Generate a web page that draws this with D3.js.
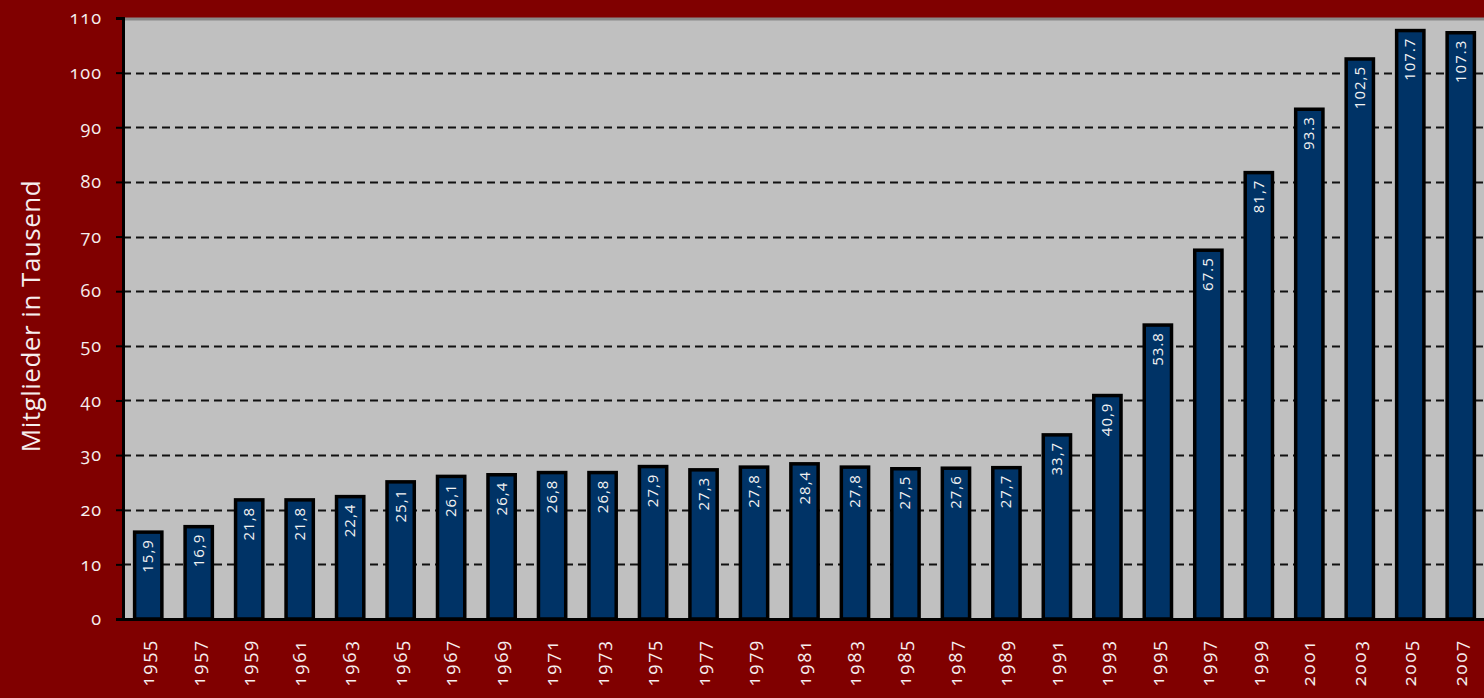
<!DOCTYPE html>
<meta charset="utf-8">
<html><head>
<title>Mitglieder</title>
<style>
  body { margin: 0; background: #800000; overflow: hidden; }
  svg { display: block; }
  .tick text { fill: #f6eeee; font-family: "Open Sans", sans-serif; font-weight: 500; font-variant-numeric: oldstyle-nums; }
</style>
</head><body>
<script src="https://cdn.jsdelivr.net/npm/d3@7/dist/d3.min.js"></script>
<script>

var years = ["1955","1957","1959","1961","1963","1965","1967","1969","1971","1973","1975","1977","1979",
             "1981","1983","1985","1987","1989","1991","1993","1995","1997","1999","2001","2003","2005","2007"];
var members = [15.9,16.9,21.8,21.8,22.4,25.1,26.1,26.4,26.8,26.8,27.9,27.3,27.8,
               28.4,27.8,27.5,27.6,27.7,33.7,40.9,53.8,67.5,81.7,93.3,102.5,107.7,107.3];
var valueLabels = ["15,9","16,9","21,8","21,8","22,4","25,1","26,1","26,4","26,8","26,8","27,9","27,3","27,8",
                   "28,4","27,8","27,5","27,6","27,7","33,7","40,9","53.8","67.5","81,7","93.3","102,5","107.7","107.3"];
var yTicks = [0,10,20,30,40,50,60,70,80,90,100,110];
var yTitle = "Mitglieder in Tausend";

var width = 1484,
    height = 698;

var plotLeft = 123, plotRight = 1486, plotTop = 18, plotBottom = 619;

var svg = d3.select("body").append("svg")
    .attr("width", width)
    .attr("height", height);

var x = d3.scaleBand()
    .domain(years)
    .range([plotLeft, plotRight])
    .paddingInner(0.46)
    .paddingOuter(0.23);

var y = d3.scaleLinear()
    .domain([0, 110])
    .range([plotBottom, plotTop]);

// plot background
svg.append("rect")
    .attr("x", plotLeft)
    .attr("y", plotTop)
    .attr("width", width - plotLeft)
    .attr("height", plotBottom - plotTop)
    .style("fill", "#c0c0c0");

svg.append("line")
    .attr("x1", plotLeft).attr("x2", width)
    .attr("y1", plotTop + 1).attr("y2", plotTop + 1)
    .style("stroke", "#8a8a8a")
    .style("stroke-width", 3);

// dashed grid
svg.append("g")
    .selectAll("line")
    .data(yTicks.filter(function(t) { return t > 0 && t < 110; }))
    .enter().append("line")
    .attr("x1", plotLeft).attr("x2", width)
    .attr("y1", function(d) { return Math.round(y(d)) + 0.5; })
    .attr("y2", function(d) { return Math.round(y(d)) + 0.5; })
    .style("stroke", "#111")
    .style("stroke-width", 2)
    .style("stroke-dasharray", "8,5");

// bars
svg.append("g")
    .selectAll("rect")
    .data(years)
    .enter().append("rect")
    .attr("x", function(d) { return x(d); })
    .attr("y", function(d, i) { return y(members[i]); })
    .attr("width", x.bandwidth())
    .attr("height", function(d, i) { return plotBottom - y(members[i]); })
    .style("fill", "#003366")
    .style("stroke", "#000")
    .style("stroke-width", 3.5);

// value labels inside bars
svg.append("g")
    .selectAll("text")
    .data(years)
    .enter().append("text")
    .attr("transform", function(d, i) {
        return "translate(" + (x(d) + x.bandwidth() / 2 + 5) + "," + (y(members[i]) + 7) + ") rotate(-90)";
    })
    .style("text-anchor", "end")
    .style("fill", "#f2f2f2")
    .style("font-family", "'Open Sans', sans-serif")
    .style("font-weight", 500)
    .style("font-size", "15px")
    .style("letter-spacing", "1px")
    .text(function(d, i) { return valueLabels[i]; });

// y axis
var yAxis = svg.append("g")
    .attr("transform", "translate(" + plotLeft + ",0)")
    .call(d3.axisLeft(y).tickValues(yTicks).tickSize(7).tickPadding(14));
yAxis.select(".domain").style("stroke", "#000").style("stroke-width", 3);
yAxis.selectAll(".tick line").style("stroke", "#000").style("stroke-width", 2);
yAxis.selectAll(".tick text").style("font-size", "18px").style("letter-spacing", "1px");

// x axis
var xAxis = svg.append("g")
    .attr("transform", "translate(0," + plotBottom + ")")
    .call(d3.axisBottom(x).tickSize(0).tickPadding(0));
xAxis.select(".domain").remove();
svg.append("line")
    .attr("x1", plotLeft - 7).attr("x2", width)
    .attr("y1", plotBottom + 0.5).attr("y2", plotBottom + 0.5)
    .style("stroke", "#000")
    .style("stroke-width", 3);
xAxis.selectAll(".tick text")
    .attr("transform", "translate(6,20) rotate(-90)")
    .attr("dy", 0)
    .attr("y", 0)
    .style("text-anchor", "end")
    .style("font-size", "18px")
    .style("letter-spacing", "2px");

// y title
svg.append("text")
    .attr("transform", "translate(40,316) rotate(-90)")
    .style("text-anchor", "middle")
    .style("fill", "#f6eeee")
    .style("font-family", "'Open Sans', sans-serif")
    .style("font-weight", 500)
    .style("font-size", "26px")
    .style("letter-spacing", "0.5px")
    .text(yTitle);

</script>
</body>
</html>
